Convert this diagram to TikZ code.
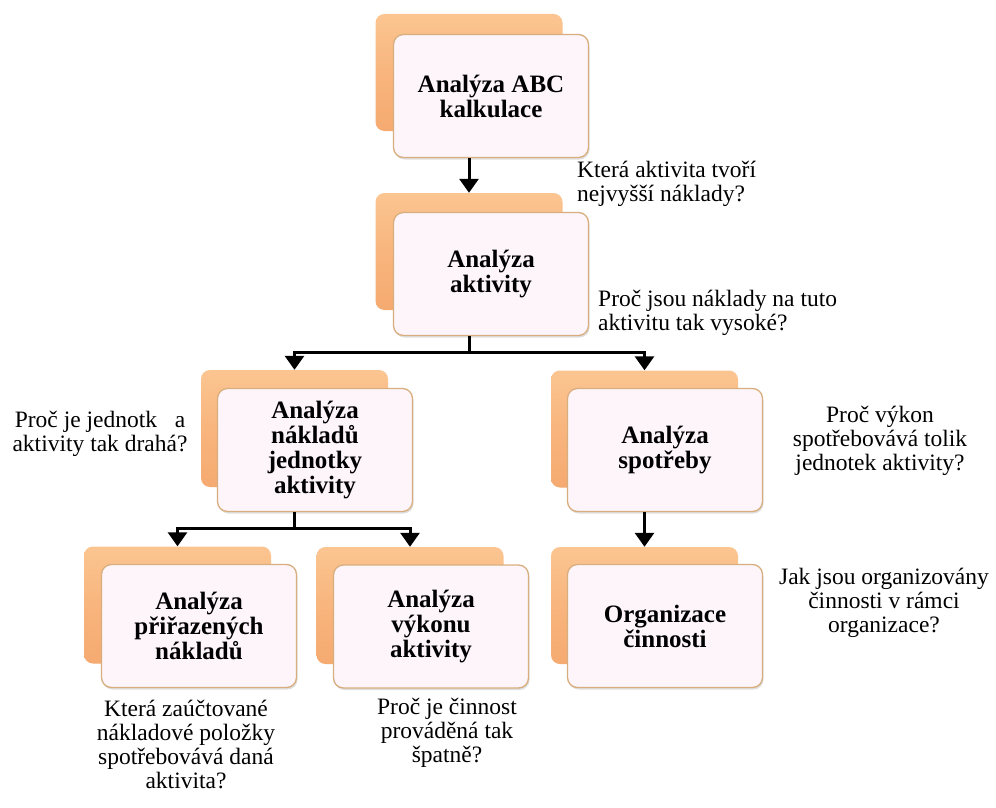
\documentclass[tikz,border=0pt]{standalone}
\usepackage{fontspec}
\setmainfont{Liberation Serif}
\usetikzlibrary{arrows.meta,shadows,calc}
\definecolor{orgL}{HTML}{FBC591}
\definecolor{orgM}{HTML}{F8B57D}
\definecolor{orgD}{HTML}{F5AA70}
\definecolor{frontfill}{HTML}{FDF5FA}
\definecolor{frontdraw}{HTML}{D9AE7E}
\newcommand{\boxfnt}{\fontsize{25}{25}\selectfont\bfseries}
\newcommand{\qfnt}{\fontsize{23.5}{24}\selectfont}
\tikzset{
  backbox/.style={rounded corners=9pt, minimum width=187pt, minimum height=117pt,
    inner sep=0pt, top color=orgL, bottom color=orgD, middle color=orgM, draw=none},
  frontbox/.style={rounded corners=10pt, minimum width=195pt, minimum height=123pt,
    inner sep=2pt, fill=frontfill, draw=frontdraw, line width=1.3pt,
    drop shadow={opacity=0.25, shadow xshift=1pt, shadow yshift=-2pt},
    align=center, font=\boxfnt},
  question/.style={inner sep=0pt, font=\qfnt},
  conn/.style={line width=3pt, draw=black},
  arr/.style={conn, -{Triangle[width=19pt,length=14pt]}}
}
\begin{document}
\begin{tikzpicture}[x=1pt,y=-1pt]
\useasboundingbox (0,0) rectangle (996,808);
\fill[white] (0,0) rectangle (996,808);

% back boxes
\node[backbox] (bk1) at (469,72.5) {};
\node[backbox] (bk2) at (469,251.5) {};
\node[backbox] (bk3) at (294.5,428.5) {};
\node[backbox] (bk4) at (644.5,429) {};
\node[backbox] (bk5) at (177.5,605) {};
\node[backbox] (bk6) at (410,605.5) {};
\node[backbox] (bk7) at (644.5,605.5) {};

% front boxes
\node[frontbox] (b1) at (491,96) {Analýza ABC\\kalkulace};
\node[frontbox] (b2) at (491,274) {Analýza\\aktivity};
\node[frontbox] (b3) at (315,450) {Analýza\\nákladů\\jednotky\\aktivity};
\node[frontbox] (b4) at (665,450) {Analýza\\spotřeby};
\node[frontbox] (b5) at (199,626) {Analýza\\přiřazených\\nákladů};
\node[frontbox] (b6) at (431,626.5) {Analýza\\výkonu\\aktivity};
\node[frontbox] (b7) at (665,626) {Organizace\\činnosti};

% connectors
\coordinate (j1) at (469,352);
\coordinate (j2) at (294.5,528);
\draw[arr] (b1.south -| bk1) -- (bk2.north);
\draw[conn] (b2.south -| bk2) -- (j1);
\draw[arr] (j1) -| (bk3.north);
\draw[arr] (j1) -| (bk4.north);
\draw[conn] (b3.south -| bk3) -- (j2);
\draw[arr] (j2) -| (bk5.north);
\draw[arr] (j2) -| (bk6.north);
\draw[arr] (b4.south -| bk4) -- (bk7.north);

% questions
\node[question, anchor=west, align=left] (q1) at (577,184) {Která aktivita tvoří\\nejvyšší náklady?};
\node[question, anchor=west, align=left] (q2) at (598,313) {Proč jsou náklady na tuto\\aktivitu tak vysoké?};
\node[question, align=center] (q3) at (100,434) {Proč je jednotk\hspace{0.75em}a\\aktivity tak drahá?};
\node[question, align=center] (q4) at (880,441) {Proč výkon\\spotřebovává tolik\\jednotek aktivity?};
\node[question, align=center] (q5) at (884,603) {Jak jsou organizovány\\činnosti v rámci\\organizace?};
\node[question, align=center] (q6) at (186,744.5) {Která zaúčtované\\nákladové položky\\spotřebovává daná\\aktivita?};
\node[question, align=center] (q7) at (447,733) {Proč je činnost\\prováděná tak\\špatně?};
\end{tikzpicture}
\end{document}
